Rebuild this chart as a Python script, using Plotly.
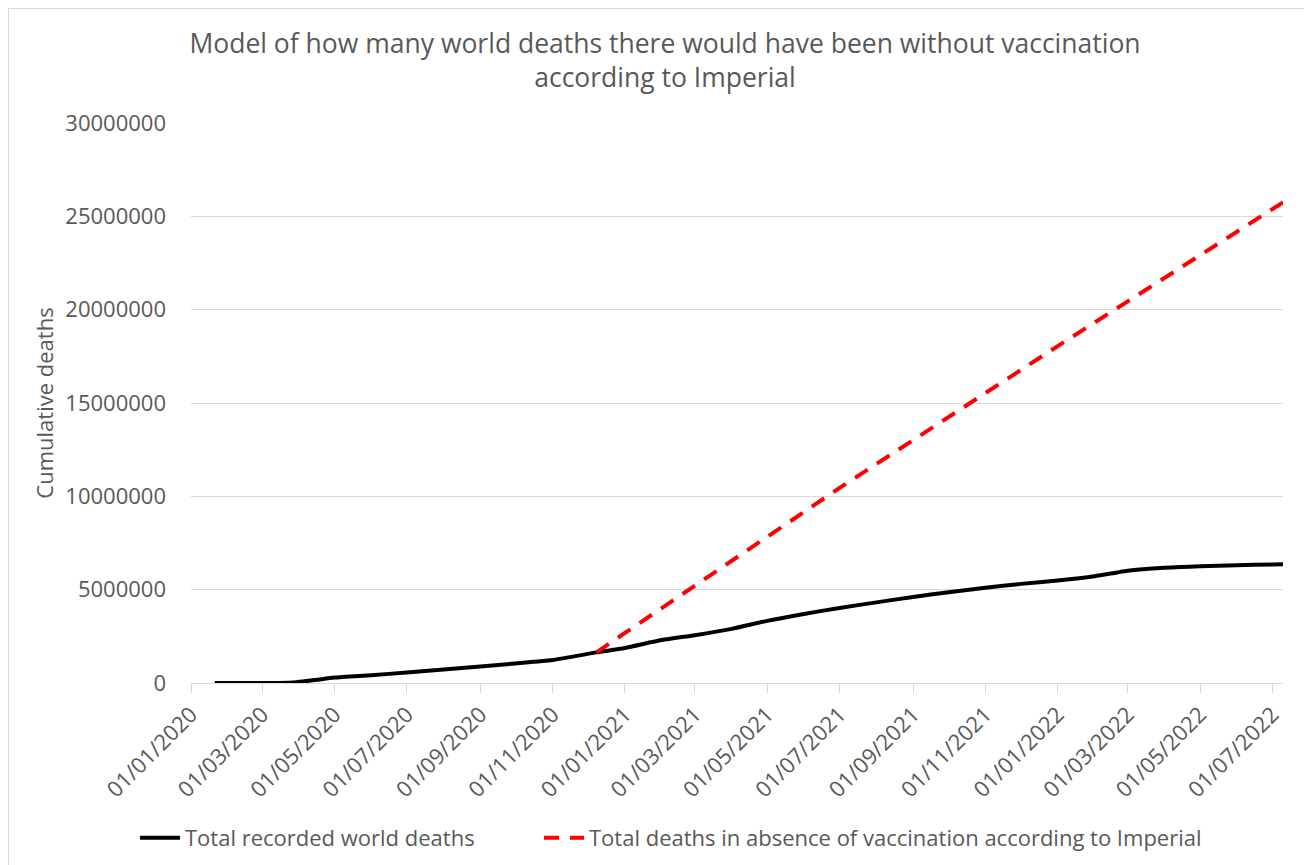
import plotly.graph_objects as go

# Recorded world deaths (cumulative)
recorded_dates = [
    "2020-01-21", "2020-02-15", "2020-03-15", "2020-03-30", "2020-04-15",
    "2020-05-01", "2020-06-01", "2020-07-01", "2020-08-01", "2020-09-01",
    "2020-10-01", "2020-11-01", "2020-12-08", "2021-01-01", "2021-02-01",
    "2021-03-01", "2021-04-01", "2021-05-01", "2021-06-01", "2021-07-01",
    "2021-08-01", "2021-09-01", "2021-10-01", "2021-11-01", "2021-12-01",
    "2022-01-01", "2022-02-01", "2022-02-20", "2022-03-01", "2022-04-01",
    "2022-05-01", "2022-06-01", "2022-07-01", "2022-07-10",
]
recorded_deaths = [
    0, 2000, 6000, 45000, 160000,
    290000, 420000, 560000, 720000, 890000,
    1050000, 1230000, 1640000, 1880000, 2300000,
    2560000, 2900000, 3330000, 3700000, 4020000,
    4320000, 4610000, 4860000, 5100000, 5310000,
    5490000, 5720000, 5920000, 6010000, 6170000,
    6260000, 6310000, 6350000, 6360000,
]

# Model: deaths in absence of vaccination (Imperial)
model_dates = ["2020-12-08", "2021-01-01", "2021-07-01", "2022-01-01", "2022-07-10"]
model_deaths = [1640000, 2680000, 10450000, 18050000, 25750000]

y_ticks = [0, 5000000, 10000000, 15000000, 20000000, 25000000, 30000000]

TEXT = "#595959"
GRID = "#d9d9d9"
FONT = "Open Sans"

W, H = 1312, 865
PL, PR, PT, PB = 183, 1275, 115, 675   # plot area in figure pixels

fig = go.Figure()
fig.add_trace(go.Scatter(
    x=recorded_dates, y=recorded_deaths, mode="lines",
    name="Total recorded world deaths",
    line=dict(color="black", width=4, shape="spline", smoothing=0.6),
    legend="legend",
))
fig.add_trace(go.Scatter(
    x=model_dates, y=model_deaths, mode="lines",
    name="Total deaths in absence of vaccination according to Imperial",
    line=dict(color="#ff0000", width=4, dash="15px,11px"),
    legend="legend2",
))

leg_common = dict(
    orientation="h", xref="container", yref="container",
    xanchor="left", y=1 - 830 / H, yanchor="middle",
    font=dict(family=FONT, size=22, color=TEXT),
    itemwidth=40, bgcolor="rgba(0,0,0,0)",
)

fig.update_layout(
    width=W, height=H,
    paper_bgcolor="white", plot_bgcolor="white",
    margin=dict(l=PL, r=W - PR, t=PT, b=H - PB, autoexpand=False),
    font=dict(family=FONT, color=TEXT, size=22),
    title=dict(
        text="Model of how many world deaths there would have been without vaccination<br>according to Imperial",
        x=657 / W, xanchor="center", xref="container",
        y=1 - 45 / H, yanchor="top", yref="container",
        font=dict(family=FONT, size=26.5, color=TEXT),
    ),
    showlegend=True,
    legend=dict(x=127 / W, **leg_common),
    legend2=dict(x=531 / W, **leg_common),
    xaxis=dict(
        type="date", range=["2020-01-01", "2022-07-10"],
        tick0="2020-01-01", dtick="M2", tickformat="%d/%m/%Y",
        tickangle=-45, showgrid=False,
        showline=True, linecolor=GRID, linewidth=1,
        ticks="outside", ticklen=9, tickcolor=GRID, tickwidth=1,
        tickfont=dict(family=FONT, size=22, color=TEXT),
        zeroline=False,
    ),
    yaxis=dict(
        range=[0, 30000000], tickvals=y_ticks,
        ticktext=[str(v) for v in y_ticks],
        showgrid=True, gridcolor=GRID, gridwidth=1,
        zeroline=False, showline=False, ticks="",
        ticklabelstandoff=24,
        tickfont=dict(family=FONT, size=22, color=TEXT),
        title=dict(text="Cumulative deaths", font=dict(family=FONT, size=22, color=TEXT), standoff=5),
    ),
    shapes=[dict(
        type="rect", xref="paper", yref="paper",
        x0=(0.5 - PL) / (PR - PL), x1=(W + 20 - PL) / (PR - PL),
        y0=(PB - (H + 20)) / (PB - PT), y1=(PB - 0.5) / (PB - PT),
        line=dict(color=GRID, width=1), fillcolor="rgba(0,0,0,0)", layer="below",
    )],
)

fig.write_html("out.html")
